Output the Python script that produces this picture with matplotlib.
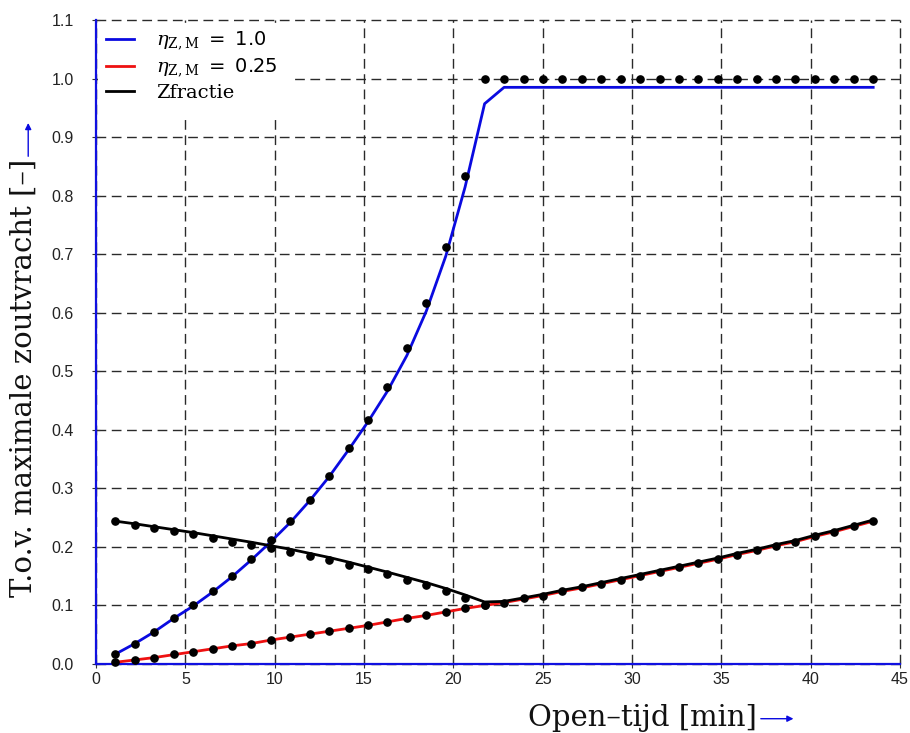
import matplotlib
matplotlib.use("Agg")
import matplotlib.pyplot as plt
from matplotlib.lines import Line2D
from matplotlib.patches import FancyArrowPatch, Rectangle

# Open time [min] at which the model was evaluated
open_tijd = [1.09, 2.18, 3.26, 4.35, 5.44, 6.53, 7.61, 8.70, 9.79, 10.88,
             11.96, 13.05, 14.14, 15.23, 16.31, 17.40, 18.49, 19.58, 20.66, 21.75,
             22.84, 23.93, 25.01, 26.10, 27.19, 28.28, 29.36, 30.45, 31.54, 32.63,
             33.71, 34.80, 35.89, 36.98, 38.06, 39.15, 40.24, 41.33, 42.41, 43.50]

# Curves (lines)
eta_10_line = [0.017, 0.035, 0.055, 0.078, 0.099, 0.123, 0.149, 0.178, 0.209, 0.242,
               0.279, 0.320, 0.366, 0.414, 0.466, 0.527, 0.603, 0.697, 0.815, 0.957,
               0.985, 0.985, 0.985, 0.985, 0.985, 0.985, 0.985, 0.985, 0.985, 0.985,
               0.985, 0.985, 0.985, 0.985, 0.985, 0.985, 0.985, 0.985, 0.985, 0.985]
eta_025_line = [0.003, 0.007, 0.011, 0.016, 0.021, 0.026, 0.031, 0.035, 0.041, 0.046,
                0.051, 0.056, 0.061, 0.066, 0.072, 0.078, 0.083, 0.089, 0.095, 0.100,
                0.105, 0.111, 0.117, 0.124, 0.130, 0.137, 0.144, 0.151, 0.158, 0.165,
                0.172, 0.179, 0.187, 0.194, 0.202, 0.209, 0.218, 0.226, 0.235, 0.244]
zfractie_line = [0.244, 0.2395, 0.2345, 0.2295, 0.2245, 0.219, 0.2135, 0.208, 0.202, 0.196,
                 0.189, 0.182, 0.174, 0.1655, 0.157, 0.148, 0.139, 0.129, 0.118, 0.106,
                 0.107, 0.113, 0.119, 0.126, 0.132, 0.139, 0.146, 0.153, 0.160, 0.167,
                 0.174, 0.181, 0.189, 0.196, 0.204, 0.211, 0.220, 0.228, 0.237, 0.246]

# Reference points (dots)
eta_10_pts = [0.017, 0.035, 0.055, 0.078, 0.100, 0.125, 0.151, 0.180, 0.211, 0.244,
              0.281, 0.322, 0.369, 0.417, 0.474, 0.539, 0.617, 0.713, 0.834, 1.000,
              1.000, 1.000, 1.000, 1.000, 1.000, 1.000, 1.000, 1.000, 1.000, 1.000,
              1.000, 1.000, 1.000, 1.000, 1.000, 1.000, 1.000, 1.000, 1.000, 1.000]
eta_025_pts = [0.003, 0.007, 0.011, 0.017, 0.021, 0.026, 0.031, 0.035, 0.041, 0.046,
               0.051, 0.056, 0.061, 0.066, 0.072, 0.078, 0.083, 0.089, 0.095, 0.100,
               0.105, 0.112, 0.117, 0.124, 0.131, 0.137, 0.144, 0.151, 0.158, 0.165,
               0.172, 0.179, 0.187, 0.194, 0.202, 0.209, 0.218, 0.226, 0.235, 0.244]
zfractie_pts = [0.244, 0.238, 0.232, 0.228, 0.222, 0.216, 0.209, 0.203, 0.198, 0.191,
                0.184, 0.177, 0.169, 0.162, 0.153, 0.144, 0.135, 0.125, 0.113, 0.101]

x_ticks = [0, 5, 10, 15, 20, 25, 30, 35, 40, 45]
y_ticks = [0.0, 0.1, 0.2, 0.3, 0.4, 0.5, 0.6, 0.7, 0.8, 0.9, 1.0, 1.1]

plt.rcParams["mathtext.fontset"] = "dejavuserif"

BLUE = "#0a0ae0"
RED = "#ee1111"

fig = plt.figure(figsize=(9.10, 7.33), dpi=100)
ax = fig.add_axes([0.1055, 0.0941, 0.8835, 0.8786])

ax.set_xlim(0, 45)
ax.set_ylim(0, 1.1)
ax.set_xticks(x_ticks)
ax.set_yticks(y_ticks)
ax.set_xticklabels([str(t) for t in x_ticks])
ax.set_yticklabels([f"{t:.1f}" for t in y_ticks])

ax.grid(True, color="#2a2a2a", linestyle=(0, (7, 4)), linewidth=1.0)
ax.set_axisbelow(True)
for gl in ax.get_xgridlines() + ax.get_ygridlines():
    gl.set_clip_on(False)

for side in ("top", "right"):
    ax.spines[side].set_visible(False)
for side in ("left", "bottom"):
    ax.spines[side].set_color("#1010e0")
    ax.spines[side].set_linewidth(1.6)
    ax.spines[side].set_zorder(2.5)

ax.tick_params(axis="both", direction="inout", length=6, width=0.8,
               color="#333333", labelsize=11.5, labelcolor="#222222")
ax.tick_params(axis="y", pad=13)
ax.tick_params(axis="x", pad=3)
for lab in ax.get_xticklabels() + ax.get_yticklabels():
    lab.set_family("Liberation Sans")

lw = 2.0
ax.plot(open_tijd, eta_025_line, color=RED, lw=lw, zorder=3)
ax.plot(open_tijd, eta_10_line, color=BLUE, lw=lw, zorder=4)
ax.plot(open_tijd, zfractie_line, color="black", lw=lw, zorder=5)

ms = 5.2
ax.plot(open_tijd, eta_10_pts, "o", color="black", ms=ms, zorder=6, clip_on=False)
ax.plot(open_tijd, eta_025_pts, "o", color="black", ms=ms, zorder=6, clip_on=False)
ax.plot(open_tijd[:len(zfractie_pts)], zfractie_pts, "o", color="black", ms=ms, zorder=6)

# White block behind the legend that masks the grid there
ax.add_patch(Rectangle((0.002, 0.848), 0.242, 0.144, transform=ax.transAxes,
                       facecolor="white", edgecolor="none", zorder=1))

handles = [Line2D([], [], color=BLUE, lw=lw),
           Line2D([], [], color=RED, lw=lw),
           Line2D([], [], color="black", lw=lw)]
labels = [r"$\eta_{\mathrm{Z,M}}$ $\mathsf{=}$ $\mathsf{1.0}$",
          r"$\eta_{\mathrm{Z,M}}$ $\mathsf{=}$ $\mathsf{0.25}$",
          "Zfractie"]
leg = ax.legend(handles, labels, loc="upper left", frameon=False,
                borderaxespad=0.35, borderpad=0.15, handlelength=1.45, handletextpad=1.15,
                labelspacing=0.25, prop={"family": "DejaVu Serif", "size": 14})
leg.set_zorder(10)

# Axis titles with blue arrows
fig.text(0.026, 0.485, "T.o.v. maximale zoutvracht [\u2013]", rotation=90,
         family="DejaVu Serif", fontsize=21, ha="center", va="center", color="#111111")
fig.patches.append(FancyArrowPatch(
    (0.031, 0.783), (0.031, 0.836), transform=fig.transFigure,
    arrowstyle="-|>", mutation_scale=9, color=BLUE, lw=1.0))

fig.text(0.706, 0.020, "Open\u2013tijd [min]", family="DejaVu Serif", fontsize=21,
         ha="center", va="center", color="#111111")
fig.patches.append(FancyArrowPatch(
    (0.833, 0.0195), (0.875, 0.0195), transform=fig.transFigure,
    arrowstyle="-|>", mutation_scale=9, color=BLUE, lw=1.0))

fig.savefig("out.png", dpi=100, facecolor="white")
